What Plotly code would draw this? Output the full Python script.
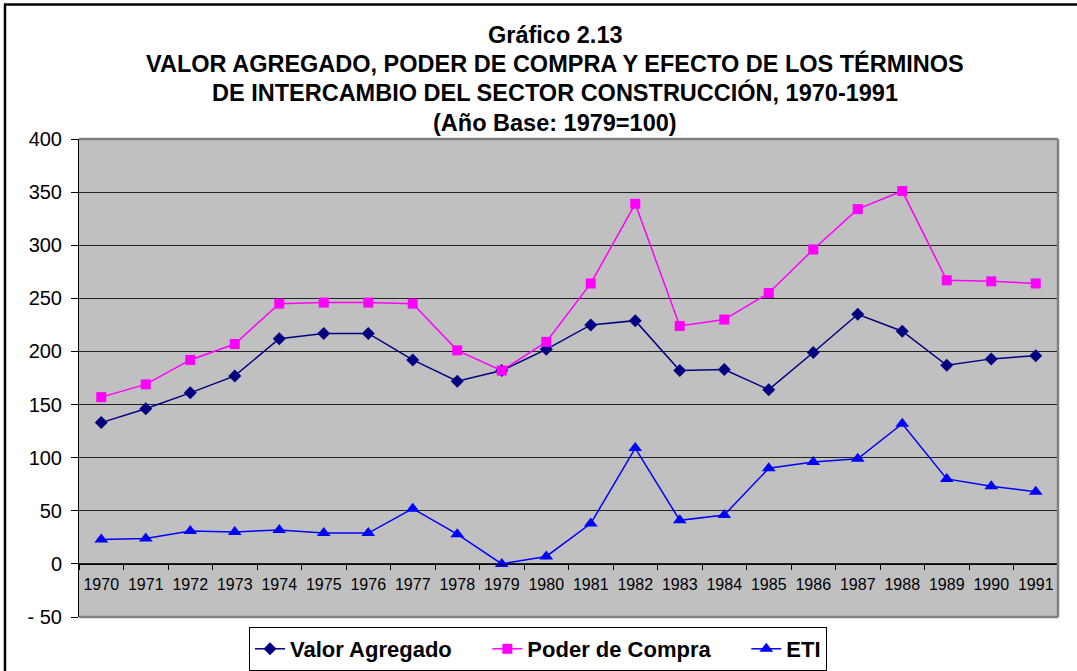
import plotly.graph_objects as go

years = [str(y) for y in range(1970, 1992)]
valor_agregado = [133, 146, 161, 177, 212, 217, 217, 192, 172, 182, 202,
                  225, 229, 182, 183, 164, 199, 235, 219, 187, 193, 196]
poder_compra = [157, 169, 192, 207, 245, 246, 246, 245, 201, 182, 209,
                264, 339, 224, 230, 255, 296, 334, 351, 267, 266, 264]
eti = [23, 24, 31, 30, 32, 29, 29, 52, 28, 0, 7,
       38, 109, 41, 46, 90, 96, 99, 132, 80, 73, 68]

ytick_vals = [-50, 0, 50, 100, 150, 200, 250, 300, 350, 400]
ytick_text = ["- 50", "0", "50", "100", "150", "200", "250", "300", "350", "400"]

title_lines = [
    "Gráfico 2.13",
    "VALOR AGREGADO, PODER DE COMPRA Y EFECTO DE LOS TÉRMINOS",
    "DE INTERCAMBIO DEL SECTOR CONSTRUCCIÓN, 1970-1991",
    "(Año Base: 1979=100)",
]

W, H = 1077, 671
L, R, T, B = 79, 1058, 139, 617

def px_x(p):
    return (p - L) / (R - L)

def px_y(p):
    return (B - p) / (B - T)

FONT = "Liberation Sans, Arial, sans-serif"
NB = "\u00a0"

fig = go.Figure()
fig.add_trace(go.Scatter(
    x=years, y=valor_agregado, name="Valor Agregado" + NB * 5, mode="lines+markers",
    line=dict(color="#000080", width=1.5),
    marker=dict(symbol="diamond", size=10, color="#000080"),
))
fig.add_trace(go.Scatter(
    x=years, y=poder_compra, name="Poder de Compra" + NB * 5, mode="lines+markers",
    line=dict(color="#FF00FF", width=1.5),
    marker=dict(symbol="square", size=10, color="#FF00FF"),
))
fig.add_trace(go.Scatter(
    x=years, y=eti, name="ETI", mode="lines+markers",
    line=dict(color="#0000FF", width=1.5),
    marker=dict(symbol="triangle-up", size=12, color="#0000FF"),
))

annotations = []
centers = [35, 64, 93, 123]
for txt, cy in zip(title_lines, centers):
    annotations.append(dict(
        text="<b>%s</b>" % txt, x=px_x(555), y=px_y(cy), xref="paper", yref="paper",
        xanchor="center", yanchor="middle", showarrow=False,
        font=dict(family=FONT, size=23.5, color="black"),
    ))

shapes = [
    dict(type="line", xref="paper", yref="paper", x0=0, x1=1, y0=1, y1=1,
         line=dict(color="#808080", width=2.5), layer="above"),
    dict(type="line", xref="paper", yref="paper", x0=1, x1=1, y0=0, y1=1,
         line=dict(color="#808080", width=2.5), layer="above"),
    dict(type="line", xref="paper", yref="paper", x0=0, x1=1, y0=0, y1=0,
         line=dict(color="#808080", width=2.5), layer="above"),
    dict(type="line", xref="paper", yref="paper", x0=px_x(5), x1=px_x(5),
         y0=px_y(4), y1=px_y(690), line=dict(color="black", width=2.5)),
    dict(type="line", xref="paper", yref="paper", x0=px_x(4), x1=px_x(1090),
         y0=px_y(4.5), y1=px_y(4.5), line=dict(color="black", width=2.5)),
]

fig.update_layout(
    width=W, height=H,
    margin=dict(l=L, r=W - R, t=T, b=H - B, pad=0, autoexpand=False),
    paper_bgcolor="white",
    plot_bgcolor="#C0C0C0",
    font=dict(family=FONT, color="black"),
    showlegend=True,
    legend=dict(
        orientation="h", x=px_x(249), y=px_y(627), xanchor="left", yanchor="top",
        bgcolor="white", bordercolor="black", borderwidth=1,
        font=dict(family=FONT, size=22, color="black", weight="bold"),
    ),
    annotations=annotations,
    shapes=shapes,
    xaxis=dict(
        type="category", anchor="free", position=50 / 450,
        showline=True, linecolor="black", linewidth=1,
        ticks="outside", ticklen=5, tickcolor="black", tickson="boundaries",
        showgrid=False, tickfont=dict(family=FONT, size=16, color="black"),
        tickangle=0, ticklabelstandoff=6, range=[-0.5, 21.5],
    ),
    yaxis=dict(
        range=[-50, 400], tickvals=ytick_vals, ticktext=ytick_text,
        showline=True, linecolor="black", linewidth=1,
        ticks="outside", ticklen=7, tickcolor="black",
        showgrid=True, gridcolor="#222222", gridwidth=1, zeroline=False,
        tickfont=dict(family=FONT, size=20, color="black"),
        ticklabelstandoff=5,
    ),
)

fig.write_html(
    "out.html",
    config={"displayModeBar": False},
    post_script="document.body.style.margin='0px';document.body.style.overflow='hidden';",
)
